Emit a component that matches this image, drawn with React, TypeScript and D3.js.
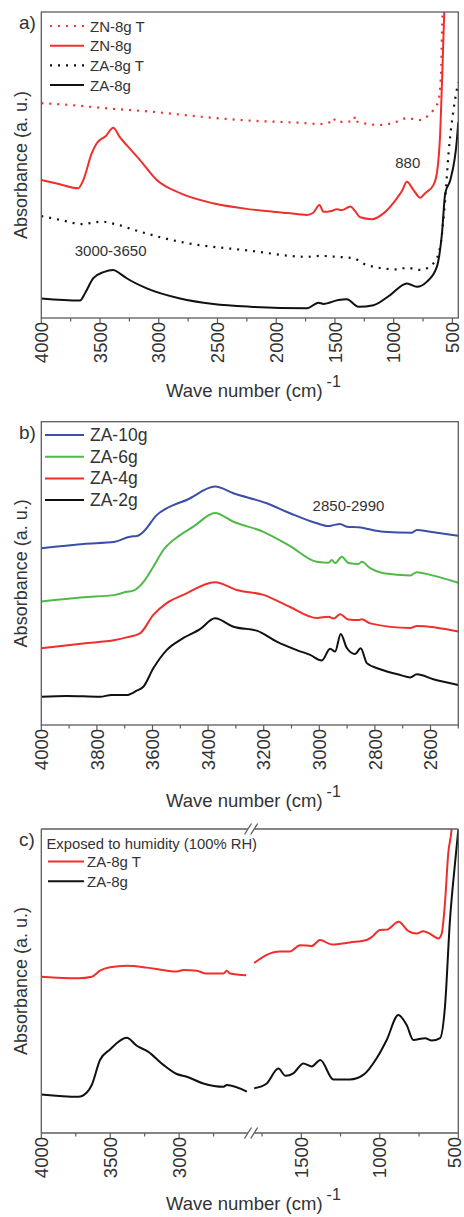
import React from 'react';
import * as d3 from 'd3';

type Pt = [number, number]; // [wave number (cm-1), absorbance (a.u., 0-100 of panel height)]

// ---------------- Panel a ----------------
const aZN8gT: Pt[] = [
  [4000, 70.2], [3750, 69.6], [3500, 68.7], [3000, 67.2], [2650, 65.8], [2220, 64.5], [1800, 63.8],
  [1630, 63.4], [1540, 64.0], [1515, 65.3], [1490, 64.1], [1456, 64.1], [1340, 64.3], [1328, 66.0],
  [1310, 64.2], [1250, 63.6], [1123, 63.1], [1000, 63.8], [888, 65.3], [774, 64.7], [717, 65.8],
  [661, 68.0], [618, 71.2], [604, 75.6], [595, 82.1], [589, 93.1], [580, 105], [572, 115],
];
const aZN8g: Pt[] = [
  [4000, 45.1], [3850, 43.8], [3685, 42.4], [3642, 45.1], [3571, 53.8], [3528, 57.1], [3450, 59.5],
  [3387, 62.2], [3330, 59.0], [3273, 56.5], [3160, 51.6], [3017, 45.1], [2819, 40.8], [2537, 37.5],
  [2222, 35.5], [1900, 34.3], [1739, 33.7], [1685, 34.4], [1632, 36.9], [1598, 34.7], [1530, 35.0],
  [1484, 35.5], [1441, 35.3], [1370, 36.4], [1330, 35.0], [1285, 32.9], [1186, 32.3], [1087, 34.2],
  [973, 39.1], [930, 41.5], [888, 44.5], [831, 41.8], [774, 39.3], [732, 40.8], [661, 43.5],
  [632, 47.4], [604, 60.5], [589, 76.8], [570, 99.7], [560, 115],
];
const aZA8gT: Pt[] = [
  [4000, 33.3], [3830, 32.0], [3656, 30.7], [3550, 31.2], [3486, 31.5], [3372, 30.7], [3159, 28.2],
  [2819, 24.9], [2222, 22.0], [1739, 20.0], [1626, 20.3], [1484, 20.0], [1342, 19.5], [1228, 17.3],
  [973, 15.9], [888, 16.4], [774, 15.7], [661, 17.9], [604, 23.3], [562, 38.6], [533, 53.8],
  [491, 68.0], [450, 77.0],
];
const aZA8g: Pt[] = [
  [4000, 6.4], [3670, 5.7], [3628, 8.1], [3557, 13.0], [3470, 15.0], [3387, 15.7], [3330, 14.5],
  [3273, 13.0], [3102, 9.7], [2819, 6.4], [2535, 4.6], [2222, 3.7], [1739, 3.2], [1640, 5.0],
  [1598, 4.6], [1470, 5.9], [1399, 6.1], [1300, 3.7], [1172, 4.2], [1030, 7.5], [888, 11.3],
  [802, 10.2], [717, 11.9], [632, 16.8], [589, 27.7], [561, 40.8], [518, 45.1], [462, 58.2], [450, 64.0],
];
const aMajorTicks = [4000, 3500, 3000, 2500, 2000, 1500, 1000, 500];
const aMinorTicks = [3750, 3250, 2750, 2250, 1750, 1250, 750];

// ---------------- Panel b ----------------
const bZA10g: Pt[] = [
  [4000, 58.3], [3849, 59.7], [3735, 60.4], [3681, 62.1], [3657, 62.3], [3633, 63.7], [3585, 69.2],
  [3525, 72.5], [3477, 74.2], [3375, 78.6], [3309, 76.4], [3189, 73.1], [3105, 69.8], [3009, 66.5],
  [2967, 65.6], [2949, 65.9], [2925, 66.3], [2901, 65.4], [2859, 65.2], [2769, 63.7], [2667, 63.4],
  [2649, 64.3], [2601, 63.7], [2500, 62.4],
];
const bZA6g: Pt[] = [
  [4000, 40.7], [3849, 42.1], [3735, 42.9], [3693, 43.9], [3669, 44.3], [3633, 47.1], [3597, 52.2],
  [3561, 57.7], [3501, 62.6], [3453, 65.4], [3375, 69.9], [3309, 67.0], [3201, 63.7], [3105, 59.0],
  [3009, 53.8], [2967, 53.5], [2955, 54.4], [2943, 53.4], [2919, 55.5], [2895, 53.4], [2859, 53.1],
  [2847, 53.8], [2817, 51.7], [2769, 50.0], [2673, 49.3], [2649, 50.4], [2601, 49.5], [2500, 46.9],
];
const bZA4g: Pt[] = [
  [4000, 25.3], [3849, 26.9], [3735, 28.0], [3693, 28.9], [3645, 30.2], [3597, 36.3], [3549, 40.2],
  [3489, 42.9], [3375, 47.1], [3297, 44.5], [3201, 42.9], [3105, 38.9], [3009, 35.3], [2967, 35.7],
  [2949, 35.1], [2925, 36.5], [2895, 34.8], [2859, 34.6], [2847, 34.9], [2817, 33.5], [2673, 32.0],
  [2649, 32.6], [2500, 30.8],
];
const bZA2g: Pt[] = [
  [4000, 9.3], [3909, 9.6], [3789, 9.3], [3747, 9.9], [3693, 9.9], [3657, 11.3], [3633, 12.6],
  [3597, 18.7], [3549, 24.7], [3501, 28.0], [3429, 31.6], [3375, 35.2], [3309, 32.4], [3225, 31.1],
  [3153, 27.5], [3081, 24.7], [3033, 23.1], [2991, 21.3], [2961, 25.1], [2943, 24.2], [2923, 30.0],
  [2901, 25.4], [2871, 23.4], [2851, 25.3], [2829, 20.4], [2781, 18.4], [2709, 16.5], [2673, 15.7],
  [2649, 16.7], [2590, 15.1], [2500, 13.2],
];
const bMajorTicks = [4000, 3800, 3600, 3400, 3200, 3000, 2800, 2600];
const bMinorTicks = [3900, 3700, 3500, 3300, 3100, 2900, 2700, 2500];

// ---------------- Panel c (broken axis) ----------------
const cZA8gTHigh: Pt[] = [
  [4000, 51.4], [3731, 50.9], [3634, 51.4], [3574, 53.4], [3501, 54.5], [3380, 55.0], [3235, 54.4],
  [3089, 53.4], [3017, 53.1], [2969, 53.6], [2871, 53.4], [2811, 52.5], [2678, 52.5], [2654, 53.4],
  [2630, 52.5], [2513, 51.9],
];
const cZA8gTLow: Pt[] = [
  [1800, 55.9], [1720, 58.6], [1636, 59.7], [1572, 59.7], [1508, 61.8], [1434, 61.5], [1381, 63.5],
  [1306, 62.0], [1190, 62.7], [1083, 63.5], [1050, 64.5], [999, 66.8], [956, 66.9], [880, 69.5],
  [818, 66.4], [765, 65.6], [723, 66.4], [680, 65.5], [627, 64.0], [606, 65.5], [585, 75.6],
  [564, 92.0], [542, 100.3], [530, 110],
];
const cZA8gHigh: Pt[] = [
  [4000, 12.7], [3731, 11.9], [3670, 13.3], [3634, 15.8], [3574, 24.0], [3501, 27.5], [3380, 31.3],
  [3307, 28.7], [3223, 26.7], [3114, 22.4], [3017, 19.4], [2944, 18.5], [2824, 16.3], [2678, 15.2],
  [2654, 15.8], [2508, 13.6],
];
const cZA8gLow: Pt[] = [
  [1800, 14.7], [1720, 16.3], [1646, 21.2], [1600, 18.8], [1551, 19.6], [1487, 22.9], [1434, 21.9],
  [1379, 24.0], [1296, 17.6], [1190, 17.6], [1105, 19.1], [1020, 24.6], [956, 30.6], [882, 38.8],
  [829, 35.5], [786, 30.6], [712, 31.2], [669, 30.4], [616, 31.2], [585, 41.5], [553, 70.1],
  [521, 88.7], [500, 99.7],
];
const cHighMajor = [4000, 3500, 3000];
const cHighMinor = [3750, 3250, 2750];
const cLowMajor = [1500, 1000, 500];
const cLowMinor = [1750, 1250, 750];

// ---------------- styling ----------------
const FONT = '"Liberation Sans", Arial, Helvetica, sans-serif';
const TEXT = '#333333';
const AXIS = '#5c5c5c';
const RED = '#ef2f2c';
const BLACK = '#111111';
const BLUE = '#3b4ea8';
const GREEN = '#50b948';
const DOT = '2 6';
const PLOT_L = 41.3;
const PLOT_R = 458.3;
const SVG_W = 464;

interface Seg { domain: [number, number]; range: [number, number]; major: number[]; minor: number[] }
interface Series { data: Pt[]; color: string; dotted?: boolean; seg?: number }
interface LegendItem { label: string; color: string; dotted?: boolean }
interface Note { text: string; w: number; v: number; size: number; seg?: number }

interface PanelProps {
  id: string;
  top: number;
  bottom: number;
  segs: Seg[];
  series: Series[];
  label: string;
  legend: LegendItem[];
  legendY0: number;
  legendDy: number;
  legendX1: number;
  legendX2: number;
  legendTX: number;
  legendSize: number;
  notes: Note[];
  header?: string;
  titleOffset: number;
}

function Panel(p: PanelProps) {
  const y = d3.scaleLinear().domain([0, 100]).range([p.bottom, p.top]);
  const xs = p.segs.map((s) => d3.scaleLinear().domain(s.domain).range(s.range));
  const clipId = `clip-${p.id}`;
  const broken = p.segs.length > 1;
  const tickSize = 18.5;
  return (
    <g>
      <defs>
        <clipPath id={clipId}>
          <rect x={PLOT_L} y={p.top} width={PLOT_R - PLOT_L} height={p.bottom - p.top} />
        </clipPath>
      </defs>
      <g clipPath={`url(#${clipId})`}>
        {p.series.map((s, i) => {
          const x = xs[s.seg ?? 0];
          const line = d3.line<Pt>().x((d) => x(d[0])).y((d) => y(d[1])).curve(d3.curveMonotoneX);
          return (
            <path key={i} d={line(s.data) ?? ''} fill="none" stroke={s.color}
              strokeWidth={s.dotted ? 2.2 : 2} strokeDasharray={s.dotted ? DOT : undefined}
              strokeLinejoin="round" />
          );
        })}
      </g>
      {/* frame */}
      {broken ? (
        <g stroke={AXIS} strokeWidth={1.3} fill="none">
          {p.segs.map((s, i) => (
            <g key={i}>
              <line x1={s.range[0]} x2={s.range[1]} y1={p.top} y2={p.top} />
              <line x1={s.range[0]} x2={s.range[1]} y1={p.bottom} y2={p.bottom} />
            </g>
          ))}
          <line x1={PLOT_L} x2={PLOT_L} y1={p.top} y2={p.bottom} />
          <line x1={PLOT_R} x2={PLOT_R} y1={p.top} y2={p.bottom} />
          {[p.top, p.bottom].map((yy, k) => (
            <g key={k}>
              {[p.segs[0].range[1], p.segs[1].range[0]].map((xx, j) => (
                <line key={j} x1={xx - 3.5} y1={yy + 5.5} x2={xx + 3.5} y2={yy - 5.5} />
              ))}
            </g>
          ))}
        </g>
      ) : (
        <rect x={PLOT_L} y={p.top} width={PLOT_R - PLOT_L} height={p.bottom - p.top}
          fill="none" stroke={AXIS} strokeWidth={1.3} />
      )}
      {/* ticks */}
      {p.segs.map((s, i) => (
        <g key={i}>
          {s.minor.map((t) => (
            <line key={`m${t}`} x1={xs[i](t)} x2={xs[i](t)} y1={p.bottom} y2={p.bottom + 3.5}
              stroke={AXIS} strokeWidth={1.2} />
          ))}
          {s.major.map((t) => {
            const tx = Math.min(xs[i](t), SVG_W - tickSize * 0.5);
            return (
              <g key={`M${t}`}>
                <line x1={xs[i](t)} x2={xs[i](t)} y1={p.bottom} y2={p.bottom + 5}
                  stroke={AXIS} strokeWidth={1.2} />
                <text transform={`translate(${tx},${p.bottom + 4}) rotate(-90)`}
                  textAnchor="end" dy="0.36em" fontSize={tickSize} fill={TEXT} fontFamily={FONT}>
                  {t}
                </text>
              </g>
            );
          })}
        </g>
      ))}
      {/* axis titles */}
      <text x={166} y={p.bottom + p.titleOffset} fontSize={18.5} fill={TEXT} fontFamily={FONT}>
        Wave number (cm)
        <tspan dx={4} dy={-10} fontSize={16}>-1</tspan>
      </text>
      <text transform={`translate(20.5,${(p.top + p.bottom) / 2}) rotate(-90)`} textAnchor="middle"
        dominantBaseline="central" fontSize={18} fill={TEXT} fontFamily={FONT}>
        Absorbance (a. u.)
      </text>
      {/* panel label */}
      <text x={19} y={p.top + 17} fontSize={19} fill={TEXT} fontFamily={FONT}>{p.label}</text>
      {p.header && (
        <text x={46.5} y={p.top + 14.5} dominantBaseline="central" fontSize={14.8} fill={TEXT}
          fontFamily={FONT}>{p.header}</text>
      )}
      {/* legend */}
      {p.legend.map((l, i) => {
        const yy = p.legendY0 + i * p.legendDy;
        return (
          <g key={l.label}>
            <line x1={p.legendX1} x2={p.legendX2} y1={yy} y2={yy} stroke={l.color}
              strokeWidth={l.dotted ? 2.2 : 2} strokeDasharray={l.dotted ? DOT : undefined} />
            <text x={p.legendTX} y={yy} dominantBaseline="central" fontSize={p.legendSize}
              fill={TEXT} fontFamily={FONT}>{l.label}</text>
          </g>
        );
      })}
      {/* annotations */}
      {p.notes.map((n) => (
        <text key={n.text} x={xs[n.seg ?? 0](n.w)} y={y(n.v)} textAnchor="middle"
          dominantBaseline="central" fontSize={n.size} fill={TEXT} fontFamily={FONT}>{n.text}</text>
      ))}
    </g>
  );
}

export default function App() {
  return (
    <svg width={464} height={1217} viewBox="0 0 464 1217"
      style={{ position: 'absolute', left: 0, top: 0, display: 'block', background: '#fff' }}>
      <rect x={0} y={0} width={464} height={1217} fill="#fff" />
      <Panel
        id="a" top={12} bottom={318} titleOffset={79}
        segs={[{ domain: [4000, 450], range: [PLOT_L, PLOT_R], major: aMajorTicks, minor: aMinorTicks }]}
        series={[
          { data: aZN8gT, color: RED, dotted: true },
          { data: aZN8g, color: RED },
          { data: aZA8gT, color: BLACK, dotted: true },
          { data: aZA8g, color: BLACK },
        ]}
        label="a)"
        legend={[
          { label: 'ZN-8g T', color: RED, dotted: true },
          { label: 'ZN-8g', color: RED },
          { label: 'ZA-8g T', color: BLACK, dotted: true },
          { label: 'ZA-8g', color: BLACK },
        ]}
        legendY0={26} legendDy={19.7} legendX1={50} legendX2={84} legendTX={90} legendSize={15}
        notes={[
          { text: '880', w: 880, v: 50.7, size: 15 },
          { text: '3000-3650', w: 3410, v: 22, size: 15 },
        ]}
      />
      <Panel
        id="b" top={421.7} bottom={725} titleOffset={82}
        segs={[{ domain: [4000, 2500], range: [PLOT_L, PLOT_R], major: bMajorTicks, minor: bMinorTicks }]}
        series={[
          { data: bZA10g, color: BLUE },
          { data: bZA6g, color: GREEN },
          { data: bZA4g, color: RED },
          { data: bZA2g, color: BLACK },
        ]}
        label="b)"
        legend={[
          { label: 'ZA-10g', color: BLUE },
          { label: 'ZA-6g', color: GREEN },
          { label: 'ZA-4g', color: RED },
          { label: 'ZA-2g', color: BLACK },
        ]}
        legendY0={435} legendDy={21.7} legendX1={45} legendX2={84} legendTX={90} legendSize={17.5}
        notes={[{ text: '2850-2990', w: 2895, v: 72.5, size: 15 }]}
      />
      <Panel
        id="c" top={829} bottom={1133} titleOffset={77}
        segs={[
          { domain: [4000, 2500], range: [PLOT_L, 248], major: cHighMajor, minor: cHighMinor },
          { domain: [1800, 500], range: [254.2, PLOT_R], major: cLowMajor, minor: cLowMinor },
        ]}
        series={[
          { data: cZA8gTHigh, color: RED, seg: 0 },
          { data: cZA8gTLow, color: RED, seg: 1 },
          { data: cZA8gHigh, color: BLACK, seg: 0 },
          { data: cZA8gLow, color: BLACK, seg: 1 },
        ]}
        label="c)"
        header="Exposed to humidity (100% RH)"
        legend={[
          { label: 'ZA-8g T', color: RED },
          { label: 'ZA-8g', color: BLACK },
        ]}
        legendY0={861.5} legendDy={19.8} legendX1={48} legendX2={84} legendTX={87} legendSize={15}
        notes={[]}
      />
    </svg>
  );
}
